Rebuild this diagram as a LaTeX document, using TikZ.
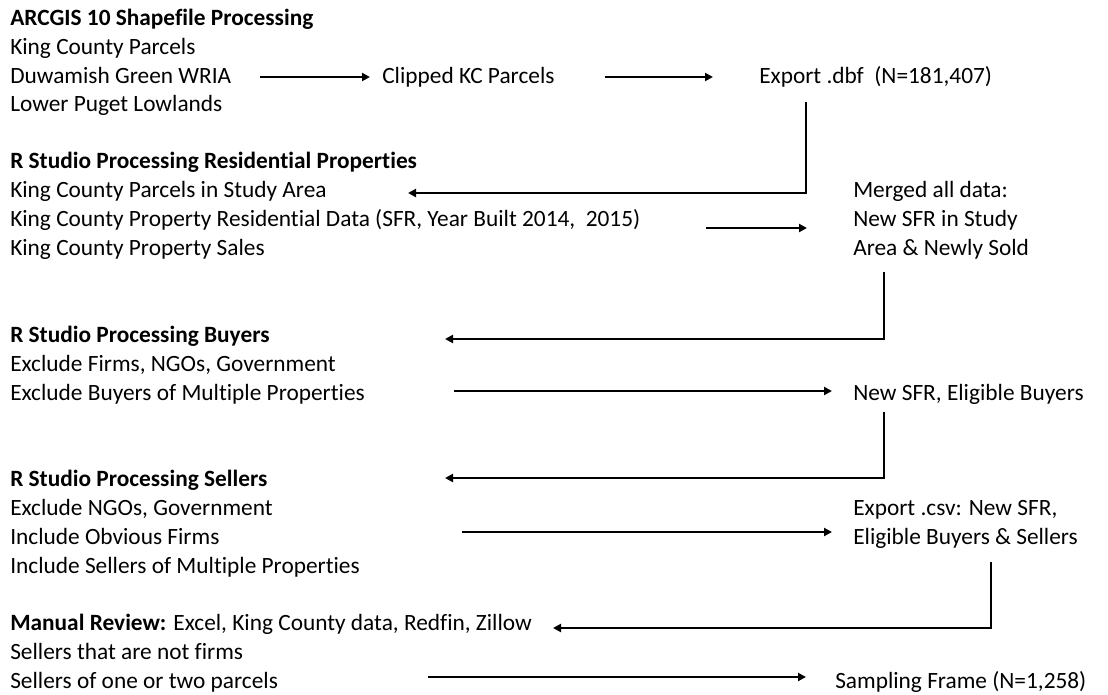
\documentclass[tikz,border=0pt]{standalone}
\usepackage{fontspec}
\setmainfont{Carlito}[Ligatures=NoCommon]
\usetikzlibrary{arrows.meta}

\tikzset{
  txt/.style={anchor=west, inner sep=0pt, text height=1.6ex, text depth=.45ex,
    font=\fontsize{17.5}{20}\selectfont},
  ttl/.style={txt, font=\fontsize{17.5}{20}\selectfont\bfseries},
  arr/.style={-{Triangle[length=6pt,width=6pt]}, line width=1.8pt}
}

\begin{document}
\begin{tikzpicture}[x=0.75pt, y=-0.75pt]
\useasboundingbox (0,0) rectangle (1108,694);

% ArcGIS block
\node[ttl](a0) at (10,22) {ARCGIS 10 Shapefile Processing};
\node[txt](a1) at (10,51) {King County Parcels};
\node[txt](a2) at (10,80) {Duwamish Green WRIA};
\node[txt](a3) at (10,108) {Lower Puget Lowlands};
\node[txt](clip) at (382,80) {Clipped KC Parcels};
\node[txt](dbf) at (759,80) {Export .dbf~~(N=181,407)};

% residential properties
\node[ttl](b0) at (10,165) {R Studio Processing Residential Properties};
\node[txt](b1) at (10,194) {King County Parcels in Study Area};
\node[txt](b2) at (10,223) {King County Property Residential Data (SFR, Year Built 2014,~~2015)};
\node[txt](b3) at (10,252) {King County Property Sales};
\node[txt](m1) at (853,194) {Merged all data:};
\node[txt](m2) at (853,223) {New SFR in Study};
\node[txt](m3) at (853,252) {Area \& Newly Sold};

% buyers
\node[ttl](c0) at (10,339) {R Studio Processing Buyers};
\node[txt](c1) at (10,368) {Exclude Firms, NGOs, Government};
\node[txt](c2) at (10,397) {Exclude Buyers of Multiple Properties};
\node[txt](elig) at (853,397) {New SFR, Eligible Buyers};

% sellers
\node[ttl](d0) at (10,483) {R Studio Processing Sellers};
\node[txt](d1) at (10,512) {Exclude NGOs, Government};
\node[txt](d2) at (10,541) {Include Obvious Firms};
\node[txt](d3) at (10,570) {Include Sellers of Multiple Properties};
\node[txt](csv1) at (853,512) {Export .csv: New SFR,};
\node[txt](csv2) at (853,541) {Eligible Buyers \& Sellers};

% manual review
\node[txt](e0) at (10,627) {\textbf{Manual Review:} Excel, King County data, Redfin, Zillow};
\node[txt](e1) at (10,656) {Sellers that are not firms};
\node[txt](e2) at (10,685) {Sellers of one or two parcels};
\node[txt](samp) at (835,685) {Sampling Frame (N=1,258)};

% arrow tails / tips
\coordinate (p1) at (260,77);
\coordinate (p2) at (605,77);
\coordinate (p3) at (706,228);
\coordinate (p4) at (454,391);
\coordinate (p5) at (462,532);
\coordinate (p6) at (428,677);
\coordinate (q1) at (408,193);
\coordinate (q2) at (445,339);
\coordinate (q3) at (445,478);
\coordinate (q4) at (553,628);

\draw[arr, shorten >=9pt] (p1) -- (p1 -| clip.west);
\draw[arr, shorten >=34.5pt] (p2) -- (p2 -| dbf.west);
\draw[arr] ([xshift=35.25pt,yshift=-11.25pt]dbf.south west) |- (q1);

\draw[arr, shorten >=34.5pt] (p3) -- (p3 -| m2.west);
\draw[arr] ([xshift=23.25pt,yshift=-9.75pt]m3.south west) |- (q2);

\draw[arr, shorten >=15.75pt] (p4) -- (p4 -| elig.west);
\draw[arr] ([xshift=23.25pt,yshift=-6pt]elig.south west) |- (q3);

\draw[arr, shorten >=15.75pt] (p5) -- (p5 -| csv2.west);
\draw[arr] ([xshift=103.5pt,yshift=-10.5pt]csv2.south west) |- (q4);

\draw[arr, shorten >=21.75pt] (p6) -- (p6 -| samp.west);

\end{tikzpicture}
\end{document}
